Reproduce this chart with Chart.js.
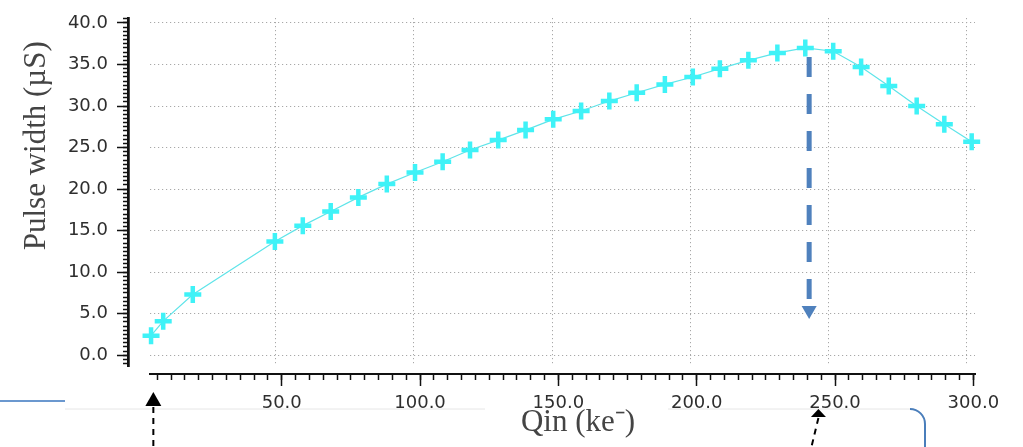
<!DOCTYPE html>
<html>
<head>
<meta charset="utf-8">
<script src="https://cdn.jsdelivr.net/npm/chart.js@4.4.1/dist/chart.umd.min.js"></script>
<style>
  html, body { margin: 0; padding: 0; background: #fff; }
  #wrap { width: 1023px; height: 447px; position: relative; }
</style>
</head>
<body>
<div id="wrap"><canvas id="pulseChart"></canvas></div>
<script>
// Qin (ke-) vs pulse width (uS)
const qin = [4.9, 9.3, 20.0, 49.7, 59.8, 69.9, 79.9, 90.2, 100.4, 110.4, 120.3, 130.5, 140.4, 150.4, 160.5,
             170.7, 180.6, 190.8, 200.9, 210.7, 221.0, 231.5, 241.6, 251.7, 261.8, 271.8, 281.9, 291.9, 301.8];
const pulseWidth = [2.35, 4.1, 7.3, 13.7, 15.6, 17.3, 19.0, 20.6, 22.0, 23.3, 24.7, 25.9, 27.1, 28.4, 29.4,
                    30.6, 31.6, 32.6, 33.5, 34.5, 35.5, 36.4, 37.0, 36.6, 34.7, 32.4, 30.0, 27.8, 25.7];

// dashed marker dropped from the peak
const peakArrowQ = [243, 243];
const peakArrowW = [35.9, 5.4];

// slide arrows pointing at the Qin axis
const axisArrowQ = [3.6, 244];

// tick labels
const xMajorTicks = [50, 100, 150, 200, 250, 300];
const yMajorTicks = [0, 5, 10, 15, 20, 25, 30, 35, 40];

const tickFont = { family: 'DejaVu Sans', size: 18, lineHeight: 1 };
const titleFont = { family: 'Liberation Serif', size: 31, lineHeight: 1 };
const ink = '#111';
const dots = { display: false, dash: [1.2, 2.8] };

// extra decorations from the slide (arrows / callout edges under the axis)
const slideMarks = {
  id: 'slideMarks',
  afterDraw(chart) {
    const { ctx, height } = chart;
    const xs = chart.scales.xMajor;
    const base = xs.top;
    ctx.save();
    ctx.lineWidth = 1;
    ctx.strokeStyle = '#e6e6e6';
    ctx.beginPath();
    ctx.moveTo(65, base + 35); ctx.lineTo(485, base + 35);
    ctx.moveTo(668, base + 35); ctx.lineTo(910, base + 35);
    ctx.stroke();
    ctx.lineWidth = 2;
    ctx.strokeStyle = '#6b98cf';
    ctx.beginPath(); ctx.moveTo(0, base + 27); ctx.lineTo(65, base + 27); ctx.stroke();
    ctx.strokeStyle = '#4a7ebb';
    ctx.beginPath();
    ctx.arc(910, base + 50, 15, -Math.PI / 2, 0);
    ctx.lineTo(925, height);
    ctx.stroke();

    // black arrows
    const heads = [{ tip: 18, h: 14, hw: 8, slant: 0 }, { tip: 35, h: 8, hw: 7.5, slant: -7 }];
    axisArrowQ.forEach((q, i) => {
      const a = heads[i];
      const x = xs.getPixelForValue(q);
      const ty = base + a.tip;
      ctx.fillStyle = '#000';
      ctx.beginPath();
      ctx.moveTo(x, ty);
      ctx.lineTo(x + a.hw, ty + a.h);
      ctx.lineTo(x - a.hw, ty + a.h);
      ctx.closePath();
      ctx.fill();
      ctx.strokeStyle = '#000';
      ctx.lineWidth = 2;
      ctx.setLineDash([6, 5]);
      ctx.beginPath();
      ctx.moveTo(x, ty + a.h + 1);
      ctx.lineTo(x + a.slant, height);
      ctx.stroke();
      ctx.setLineDash([]);
    });
    ctx.restore();
  }
};

const ctx = document.getElementById('pulseChart').getContext('2d');
new Chart(ctx, {
  type: 'line',
  data: {
    datasets: [{
      data: qin.map((q, i) => ({ x: q, y: pulseWidth[i] })),
      borderColor: '#5fe4e9', borderWidth: 1.2, tension: 0, clip: false,
      pointStyle: 'cross', pointRadius: 8.5, pointBorderWidth: 4.5,
      pointBorderColor: '#3ff2f7', pointBackgroundColor: '#3ff2f7',
      xAxisID: 'x', yAxisID: 'y'
    }, {
      data: peakArrowQ.map((q, i) => ({ x: q, y: peakArrowW[i] })),
      borderColor: '#4f81bd', borderWidth: 5, borderDash: [20, 17],
      pointRadius: [0, 8.7], pointStyle: 'triangle', pointRotation: 180,
      pointBackgroundColor: '#4f81bd', pointBorderColor: '#4f81bd', pointBorderWidth: 0,
      xAxisID: 'x', yAxisID: 'y'
    }]
  },
  options: {
    responsive: true, maintainAspectRatio: false, animation: false, devicePixelRatio: 1,
    layout: { padding: { left: 0, right: 48, top: 10, bottom: 0 } },
    plugins: { legend: { display: false }, tooltip: { enabled: false } },
    scales: {
      // data axes: only carry the dotted grid
      x: {
        type: 'linear', position: 'bottom', weight: 0, min: 4.52, max: 303,
        afterBuildTicks: s => { s.ticks = xMajorTicks.map(v => ({ value: v })); },
        ticks: { display: false },
        grid: { color: '#a8a8a8', lineWidth: 1, drawTicks: false },
        border: dots,
        afterFit: s => { s.height = 8; }
      },
      y: {
        type: 'linear', position: 'left', weight: 0, min: -1.3, max: 40.6,
        afterBuildTicks: s => { s.ticks = yMajorTicks.map(v => ({ value: v })); },
        ticks: { display: false },
        grid: { color: '#a8a8a8', lineWidth: 1, drawTicks: false },
        border: dots,
        afterFit: s => { s.width = 22; }
      },
      // ruler axes drawn off the plot, minor + major ticks
      xMinor: {
        type: 'linear', position: 'bottom', weight: 1, min: 2.39, max: 300.6,
        ticks: { display: false, stepSize: 5, includeBounds: false, autoSkip: false },
        grid: { drawOnChartArea: false, tickLength: 6, tickWidth: 1.5, tickColor: ink },
        border: { display: true, color: ink, width: 2 },
        afterFit: s => { s.height = 0; }
      },
      xMajor: {
        type: 'linear', position: 'bottom', weight: 2, min: 2.39, max: 300.6,
        afterBuildTicks: s => { s.ticks = xMajorTicks.map(v => ({ value: v })); },
        ticks: { callback: v => v.toFixed(1), font: tickFont, color: '#2e2e2e', padding: 8, maxRotation: 0, autoSkip: false },
        grid: { drawOnChartArea: false, tickLength: 12, tickWidth: 1.5, tickColor: ink },
        border: { display: true, color: ink, width: 2 },
        title: { display: true, text: '    Qin (ke\u207B)', font: titleFont, color: '#444', padding: { top: 0, bottom: 9 } },
        afterFit: s => { s.height = 73; }
      },
      yMinor: {
        type: 'linear', position: 'left', weight: 1, min: -1.3, max: 40.6,
        ticks: { display: false, stepSize: 0.5, includeBounds: false, autoSkip: false },
        grid: { drawOnChartArea: false, tickLength: 5, tickWidth: 1.5, tickColor: ink },
        border: { display: true, color: ink, width: 2.5 },
        afterFit: s => { s.width = 0; }
      },
      yMajor: {
        type: 'linear', position: 'left', weight: 2, min: -1.3, max: 40.6,
        afterBuildTicks: s => { s.ticks = yMajorTicks.map(v => ({ value: v })); },
        ticks: { callback: v => v.toFixed(1), font: tickFont, color: '#2e2e2e', padding: 9, autoSkip: false },
        grid: { drawOnChartArea: false, tickLength: 11, tickWidth: 1.5, tickColor: ink },
        border: { display: true, color: ink, width: 2.5 },
        title: { display: true, align: 'end', text: 'Pulse width (\u00B5S)   ', font: titleFont, color: '#444', padding: { top: 21, bottom: 0 } },
        afterFit: s => { s.width = 128; }
      }
    }
  },
  plugins: [slideMarks]
});
</script>
</body>
</html>
